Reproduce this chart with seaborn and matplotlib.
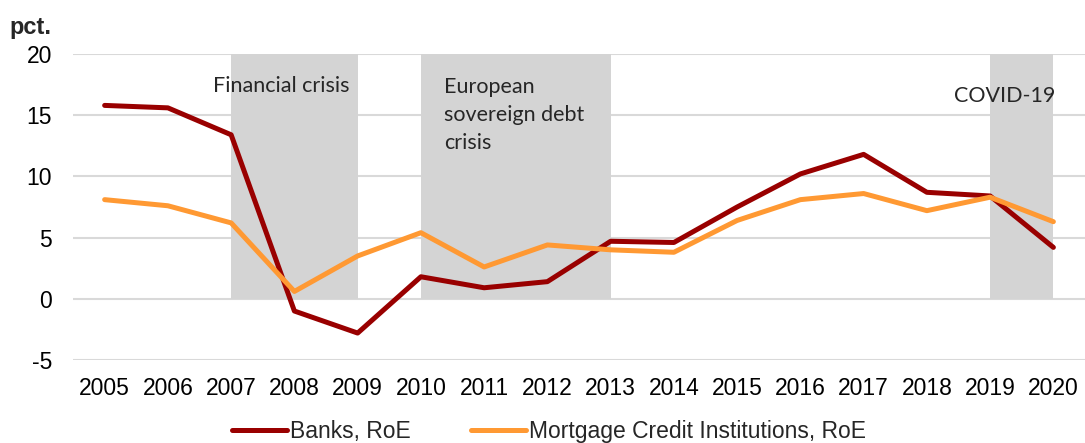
import pandas as pd
import seaborn as sns
import matplotlib.pyplot as plt

years = list(range(2005, 2021))
banks = [15.8, 15.6, 13.4, -1.0, -2.8, 1.8, 0.9, 1.4, 4.7, 4.6, 7.5, 10.2, 11.8, 8.7, 8.4, 4.2]
mortgage = [8.1, 7.6, 6.2, 0.6, 3.5, 5.4, 2.6, 4.4, 4.0, 3.8, 6.4, 8.1, 8.6, 7.2, 8.3, 6.3]
series_names = ["Banks, RoE", "Mortgage Credit Institutions, RoE"]

# kriseperioder (start, slut)
crisis_start = [2007, 2010, 2019]
crisis_end = [2009, 2013, 2020]
crisis_labels = ["Financial crisis", "European\nsovereign debt\ncrisis", "COVID-19"]

df = pd.DataFrame({
    "year": years * 2,
    "value": banks + mortgage,
    "series": [series_names[0]] * len(years) + [series_names[1]] * len(years),
})

sns.set_style("white")
plt.rcParams["font.family"] = ["Liberation Sans", "DejaVu Sans"]
plt.rcParams["axes.unicode_minus"] = False

fig = plt.figure(figsize=(10.85, 4.43), dpi=100)
ax = fig.add_axes([0.0673, 0.1874, 0.9327, 0.6907])

for s, e in zip(crisis_start, crisis_end):
    ax.fill_between([s, e], 0, 20, color="#d4d4d4", linewidth=0, zorder=1)

sns.lineplot(data=df, x="year", y="value", hue="series",
             palette=["#990000", "#ff9933"], linewidth=3.6, ax=ax, zorder=3)

ax.set_xlim(2004.5, 2020.5)
ax.set_ylim(-5, 20)
ax.set_yticks([-5, 0, 5, 10, 15, 20])
ax.set_xticks(years)
ax.grid(axis="y", color="#d9d9d9", linewidth=1.5, zorder=0)
ax.set_axisbelow(True)
for sp in ax.spines.values():
    sp.set_visible(False)
ax.tick_params(axis="both", labelsize=16.5, length=0, colors="black")
ax.tick_params(axis="x", pad=12)
ax.tick_params(axis="y", pad=15)
ax.set_xlabel("")
ax.set_ylabel("")

anno_font = ["Lato", "DejaVu Sans"]
ax.text(2006.72, 17.4, crisis_labels[0], fontsize=15.5, va="center", ha="left", family=anno_font)
ax.text(2010.36, 18.1, crisis_labels[1], fontsize=15.5, va="top", ha="left",
        linespacing=1.5, family=anno_font)
ax.text(2020.03, 16.6, crisis_labels[2], fontsize=15.5, va="center", ha="right", family=anno_font)

fig.text(0.009, 0.939, "pct.", fontsize=17, fontweight="bold", ha="left", va="center")

handles, labels = ax.get_legend_handles_labels()
ax.get_legend().remove()
fig.legend(handles, labels, loc="center", bbox_to_anchor=(0.506, 0.025), ncol=2,
           frameon=False, fontsize=16.5, handlelength=2.4, handletextpad=0.15,
           columnspacing=2.6, borderaxespad=0, borderpad=0)

fig.savefig("out.png", dpi=100)
